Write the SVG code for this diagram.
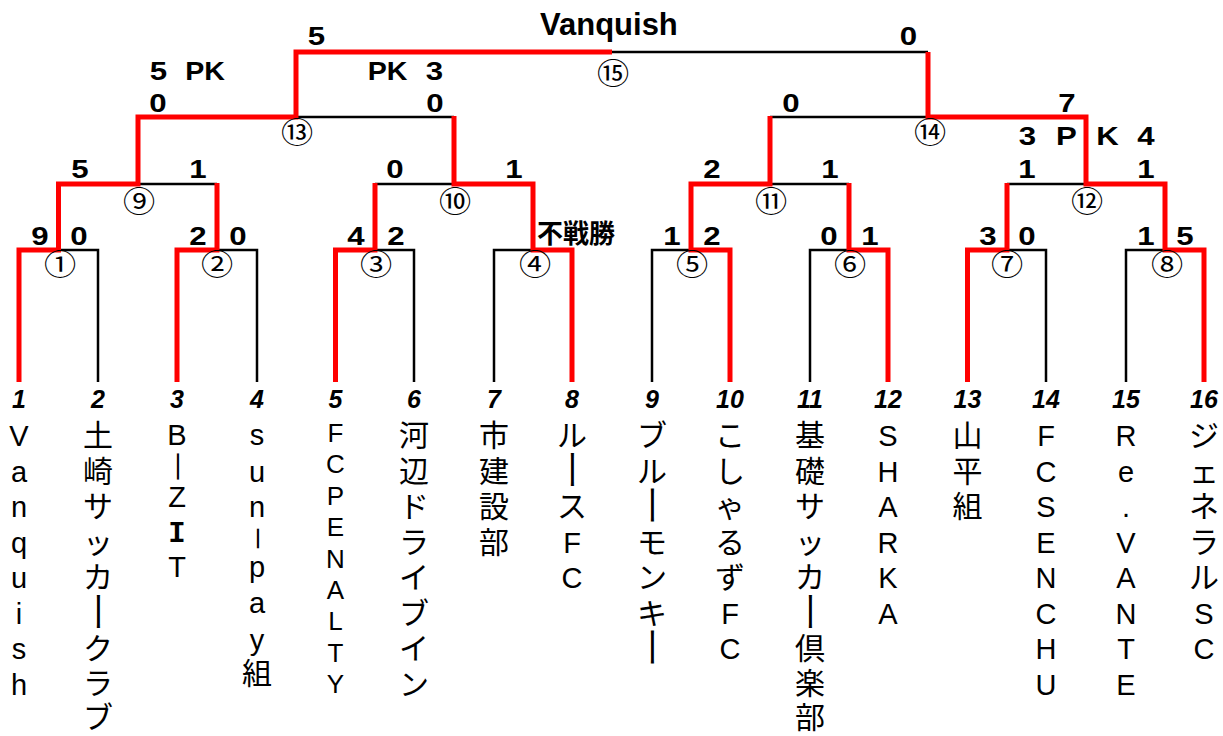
<svg xmlns="http://www.w3.org/2000/svg" width="1223" height="736" viewBox="0 0 1223 736">
<style>
.blk{stroke:#000;stroke-width:2.5;fill:none;stroke-linejoin:miter}
.red{stroke:#ff0000;stroke-width:5;fill:none;stroke-linejoin:miter;stroke-linecap:butt}
.sc{font-family:"Liberation Sans",Arial,sans-serif;font-weight:bold;font-size:26px;text-anchor:middle;fill:#000}
.ttl{font-family:"Liberation Sans",Arial,sans-serif;font-weight:bold;font-size:31px;fill:#000}
.wo{font-family:"Noto Sans CJK JP",sans-serif;font-weight:bold;font-size:26px;fill:#000}
.cn{font-family:"Noto Sans CJK JP",sans-serif;font-size:28px;text-anchor:middle;fill:#000}
.no{font-family:"Liberation Sans",Arial,sans-serif;font-weight:bold;font-style:italic;font-size:25px;text-anchor:middle;fill:#000}
.nm{font-family:"Liberation Sans","Noto Sans CJK JP",sans-serif;font-size:29px;text-anchor:middle;fill:#000}
.j{font-family:"Noto Sans CJK JP",sans-serif;font-size:30px}
.f5{font-size:26px}
.mono{font-family:"Liberation Mono",monospace;font-weight:bold}
.rot{font-family:"Noto Sans CJK JP",sans-serif;font-size:32px;text-anchor:middle;fill:#000}
.hy{font-family:"Noto Sans CJK JP",sans-serif;font-size:30px;text-anchor:middle;fill:#000}
</style>
<rect width="1223" height="736" fill="#fff"/>
<g id="connectors">
<path class="blk" d="M19,382V250H98V382M177,382V250H257V382M335.5,382V250H414V382M494,382V250H572V382M652,382V250H730V382M810,382V250H888V382M967.5,382V250H1046V382M1126,382V250H1204V382"/>
<path class="blk" d="M58.5,184H217M375,184H533M691,184H849M1007,184H1165"/>
<path class="blk" d="M138,117H454M770,117H1086"/>
<path class="blk" d="M296,52H928"/>
<path class="red" d="M19,382V250H58.5V184H138V117H296V52H612"/>
<path class="red" d="M177,382V250H217V183"/>
<path class="red" d="M335.5,382V250H375V183"/>
<path class="red" d="M572,382V250H533V184H454V116"/>
<path class="red" d="M730,382V250H691V184H770V116"/>
<path class="red" d="M888,382V250H849V183"/>
<path class="red" d="M967.5,382V250H1007V183"/>
<path class="red" d="M1204,382V250H1165V184H1086V117H928V52"/>
</g>
<g id="title"><text class="ttl" x="540" y="35">Vanquish</text></g>
<g id="match-1"><text class="cn" transform="translate(60,275.3) scale(1.15,1)">①</text><text class="sc" transform="translate(40,245) scale(1.2,1)">9</text><text class="sc" transform="translate(79,245) scale(1.2,1)">0</text></g>
<g id="match-2"><text class="cn" transform="translate(217,275.3) scale(1.15,1)">②</text><text class="sc" transform="translate(198,245) scale(1.2,1)">2</text><text class="sc" transform="translate(238,245) scale(1.2,1)">0</text></g>
<g id="match-3"><text class="cn" transform="translate(376,275.3) scale(1.15,1)">③</text><text class="sc" transform="translate(356,245) scale(1.2,1)">4</text><text class="sc" transform="translate(396,245) scale(1.2,1)">2</text></g>
<g id="match-4"><text class="cn" transform="translate(535,275.3) scale(1.15,1)">④</text><text class="wo" x="537" y="243">不戦勝</text></g>
<g id="match-5"><text class="cn" transform="translate(692,275.3) scale(1.15,1)">⑤</text><text class="sc" transform="translate(672,245) scale(1.2,1)">1</text><text class="sc" transform="translate(712,245) scale(1.2,1)">2</text></g>
<g id="match-6"><text class="cn" transform="translate(850,275.3) scale(1.15,1)">⑥</text><text class="sc" transform="translate(829,245) scale(1.2,1)">0</text><text class="sc" transform="translate(870,245) scale(1.2,1)">1</text></g>
<g id="match-7"><text class="cn" transform="translate(1007,275.3) scale(1.15,1)">⑦</text><text class="sc" transform="translate(988,245) scale(1.2,1)">3</text><text class="sc" transform="translate(1027,245) scale(1.2,1)">0</text></g>
<g id="match-8"><text class="cn" transform="translate(1167,275.3) scale(1.15,1)">⑧</text><text class="sc" transform="translate(1146,245) scale(1.2,1)">1</text><text class="sc" transform="translate(1185,245) scale(1.2,1)">5</text></g>
<g id="match-9"><text class="cn" transform="translate(139,212) scale(1.15,1)">⑨</text><text class="sc" transform="translate(80,178) scale(1.2,1)">5</text><text class="sc" transform="translate(198,178) scale(1.2,1)">1</text></g>
<g id="match-10"><text class="cn" transform="translate(455,212) scale(1.15,1)">⑩</text><text class="sc" transform="translate(395,178) scale(1.2,1)">0</text><text class="sc" transform="translate(514,178) scale(1.2,1)">1</text></g>
<g id="match-11"><text class="cn" transform="translate(771,212) scale(1.15,1)">⑪</text><text class="sc" transform="translate(712,178) scale(1.2,1)">2</text><text class="sc" transform="translate(830,178) scale(1.2,1)">1</text></g>
<g id="match-12"><text class="cn" transform="translate(1087,212) scale(1.15,1)">⑫</text><text class="sc" transform="translate(1027,178) scale(1.2,1)">1</text><text class="sc" transform="translate(1146,178) scale(1.2,1)">1</text><text class="sc" transform="translate(1027.5,145) scale(1.2,1)">3</text><text class="sc" transform="translate(1066.5,145) scale(1.2,1)">P</text><text class="sc" transform="translate(1107.5,145) scale(1.2,1)">K</text><text class="sc" transform="translate(1146,145) scale(1.2,1)">4</text></g>
<g id="match-13"><text class="cn" transform="translate(297,143.3) scale(1.15,1)">⑬</text><text class="sc" transform="translate(158,112) scale(1.2,1)">0</text><text class="sc" transform="translate(435,112) scale(1.2,1)">0</text><text class="sc" transform="translate(158.5,80) scale(1.2,1)">5</text><text class="sc" transform="translate(205,80) scale(1.1,1)">PK</text><text class="sc" transform="translate(387.5,80) scale(1.1,1)">PK</text><text class="sc" transform="translate(434.5,80) scale(1.2,1)">3</text></g>
<g id="match-14"><text class="cn" transform="translate(930,143.3) scale(1.15,1)">⑭</text><text class="sc" transform="translate(791,112) scale(1.2,1)">0</text><text class="sc" transform="translate(1067,112) scale(1.2,1)">7</text></g>
<g id="match-15"><text class="cn" transform="translate(613,84.3) scale(1.15,1)">⑮</text><text class="sc" transform="translate(316.5,45) scale(1.2,1)">5</text><text class="sc" transform="translate(908.5,45) scale(1.2,1)">0</text></g>

<g id="team-1"><text class="no" x="19" y="408">1</text>
<text class="nm"><tspan x="19" y="446">V</tspan><tspan x="19" y="481.5">a</tspan><tspan x="19" y="517">n</tspan><tspan x="19" y="552.5">q</tspan><tspan x="19" y="588">u</tspan><tspan x="19" y="623.5">i</tspan><tspan x="19" y="659">s</tspan><tspan x="19" y="694.5">h</tspan></text></g>

<g id="team-2"><text class="no" x="98" y="408">2</text>
<text class="nm"><tspan class="j" x="98" y="446">土</tspan><tspan class="j" x="98" y="481.5">崎</tspan><tspan class="j" x="98" y="517">サ</tspan><tspan class="j" x="98" y="552.5">ッ</tspan><tspan class="j" x="98" y="588">カ</tspan><tspan class="j" x="98" y="659">ク</tspan><tspan class="j" x="98" y="694">ラ</tspan><tspan class="j" x="98" y="728">ブ</tspan></text>
<text class="rot" transform="translate(98,611.5) rotate(90) scale(1.3,1)" x="0" y="12.2">ー</text></g>

<g id="team-3"><text class="no" x="177" y="408">3</text>
<text class="nm"><tspan x="177" y="445">B</tspan><tspan x="177" y="507">Z</tspan><tspan class="mono" x="177" y="542">I</tspan><tspan x="177" y="577">T</tspan></text>
<text class="hy" transform="translate(177,466.5) rotate(90) scale(1.2,1)" x="0" y="10">－</text></g>

<g id="team-4"><text class="no" x="257" y="408">4</text>
<text class="nm"><tspan x="257" y="445">s</tspan><tspan x="257" y="482">u</tspan><tspan x="257" y="517">n</tspan><tspan x="257" y="577">p</tspan><tspan x="257" y="613">a</tspan><tspan x="257" y="650">y</tspan><tspan class="j" x="257" y="684">組</tspan></text>
<text class="hy" transform="translate(257,538.5) rotate(90) scale(0.9,1)" x="0" y="10">－</text></g>

<g id="team-5"><text class="no" x="335.5" y="408">5</text>
<text class="nm f5"><tspan x="335.5" y="442">F</tspan><tspan x="335.5" y="473.4">C</tspan><tspan x="335.5" y="504.8">P</tspan><tspan x="335.5" y="536.2">E</tspan><tspan x="335.5" y="567.6">N</tspan><tspan x="335.5" y="599">A</tspan><tspan x="335.5" y="630.4">L</tspan><tspan x="335.5" y="661.8">T</tspan><tspan x="335.5" y="693.2">Y</tspan></text></g>

<g id="team-6"><text class="no" x="414" y="408">6</text>
<text class="nm"><tspan class="j" x="414" y="446">河</tspan><tspan class="j" x="414" y="481.5">辺</tspan><tspan class="j" x="414" y="517">ド</tspan><tspan class="j" x="414" y="552.5">ラ</tspan><tspan class="j" x="414" y="588">イ</tspan><tspan class="j" x="414" y="623.5">ブ</tspan><tspan class="j" x="414" y="659">イ</tspan><tspan class="j" x="414" y="694.5">ン</tspan></text></g>

<g id="team-7"><text class="no" x="494" y="408">7</text>
<text class="nm"><tspan class="j" x="494" y="446">市</tspan><tspan class="j" x="494" y="481.5">建</tspan><tspan class="j" x="494" y="517">設</tspan><tspan class="j" x="494" y="552.5">部</tspan></text></g>

<g id="team-8"><text class="no" x="572" y="408">8</text>
<text class="nm"><tspan class="j" x="572" y="446">ル</tspan><tspan class="j" x="572" y="517">ス</tspan><tspan x="572" y="552.5">F</tspan><tspan x="572" y="588">C</tspan></text>
<text class="rot" transform="translate(572,469.5) rotate(90) scale(1.3,1)" x="0" y="12.2">ー</text></g>

<g id="team-9"><text class="no" x="652" y="408">9</text>
<text class="nm"><tspan class="j" x="652" y="446">ブ</tspan><tspan class="j" x="652" y="481.5">ル</tspan><tspan class="j" x="652" y="552.5">モ</tspan><tspan class="j" x="652" y="588">ン</tspan><tspan class="j" x="652" y="623.5">キ</tspan></text>
<text class="rot" transform="translate(652,505) rotate(90) scale(1.3,1)" x="0" y="12.2">ー</text>
<text class="rot" transform="translate(652,647) rotate(90) scale(1.3,1)" x="0" y="12.2">ー</text></g>

<g id="team-10"><text class="no" x="730" y="408">10</text>
<text class="nm"><tspan class="j" x="730" y="446">こ</tspan><tspan class="j" x="730" y="481.5">し</tspan><tspan class="j" x="730" y="517">ゃ</tspan><tspan class="j" x="730" y="552.5">る</tspan><tspan class="j" x="730" y="588">ず</tspan><tspan x="730" y="623.5">F</tspan><tspan x="730" y="659">C</tspan></text></g>

<g id="team-11"><text class="no" x="810" y="408">11</text>
<text class="nm"><tspan class="j" x="810" y="446">基</tspan><tspan class="j" x="810" y="481.5">礎</tspan><tspan class="j" x="810" y="517">サ</tspan><tspan class="j" x="810" y="552.5">ッ</tspan><tspan class="j" x="810" y="588">カ</tspan><tspan class="j" x="810" y="659">倶</tspan><tspan class="j" x="810" y="694">楽</tspan><tspan class="j" x="810" y="728">部</tspan></text>
<text class="rot" transform="translate(810,611.5) rotate(90) scale(1.3,1)" x="0" y="12.2">ー</text></g>

<g id="team-12"><text class="no" x="888" y="408">12</text>
<text class="nm"><tspan x="888" y="446">S</tspan><tspan x="888" y="481.5">H</tspan><tspan x="888" y="517">A</tspan><tspan x="888" y="552.5">R</tspan><tspan x="888" y="588">K</tspan><tspan x="888" y="623.5">A</tspan></text></g>

<g id="team-13"><text class="no" x="967.5" y="408">13</text>
<text class="nm"><tspan class="j" x="967.5" y="446">山</tspan><tspan class="j" x="967.5" y="481.5">平</tspan><tspan class="j" x="967.5" y="517">組</tspan></text></g>

<g id="team-14"><text class="no" x="1046" y="408">14</text>
<text class="nm"><tspan x="1046" y="446">F</tspan><tspan x="1046" y="481.5">C</tspan><tspan x="1046" y="517">S</tspan><tspan x="1046" y="552.5">E</tspan><tspan x="1046" y="588">N</tspan><tspan x="1046" y="623.5">C</tspan><tspan x="1046" y="659">H</tspan><tspan x="1046" y="694.5">U</tspan></text></g>

<g id="team-15"><text class="no" x="1126" y="408">15</text>
<text class="nm"><tspan x="1126" y="446">R</tspan><tspan x="1126" y="481.5">e</tspan><tspan x="1126" y="517">.</tspan><tspan x="1126" y="552.5">V</tspan><tspan x="1126" y="588">A</tspan><tspan x="1126" y="623.5">N</tspan><tspan x="1126" y="659">T</tspan><tspan x="1126" y="694.5">E</tspan></text></g>

<g id="team-16"><text class="no" x="1204" y="408">16</text>
<text class="nm"><tspan class="j" x="1204" y="446">ジ</tspan><tspan class="j" x="1204" y="481.5">ェ</tspan><tspan class="j" x="1204" y="517">ネ</tspan><tspan class="j" x="1204" y="552.5">ラ</tspan><tspan class="j" x="1204" y="588">ル</tspan><tspan x="1204" y="623.5">S</tspan><tspan x="1204" y="659">C</tspan></text></g>
</svg>
